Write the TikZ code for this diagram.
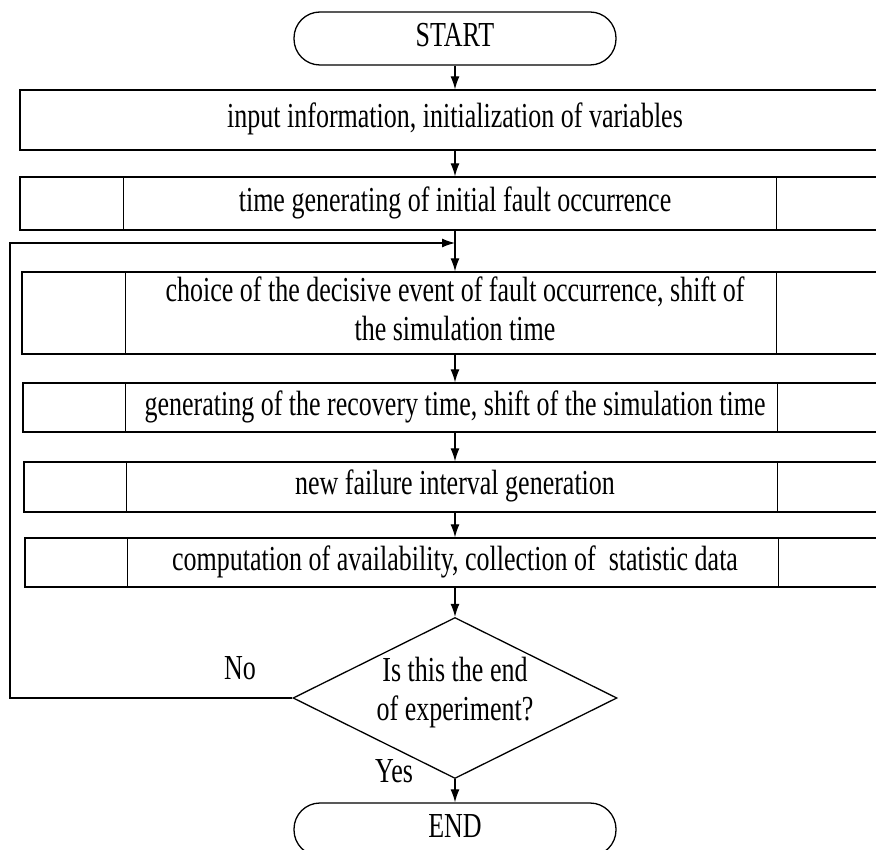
\documentclass[tikz,border=0pt]{standalone}
\usepackage{fontspec}
\usepackage{graphicx}
\setmainfont{Liberation Serif}
\usetikzlibrary{arrows.meta,shapes.geometric}
\newcommand{\vtxt}[1]{\scalebox{1}[1.35]{\begin{tabular}{@{}c@{}}#1\end{tabular}}}
\tikzset{
  every node/.style={font=\fontsize{26}{29}\selectfont, inner sep=0pt},
  ln/.style={line width=1.3pt, draw=black},
  box/.style={ln, rectangle},
  term/.style={ln, rectangle, rounded corners=26pt, minimum width=322pt, minimum height=53pt},
  decision/.style={ln, diamond, minimum width=324pt, minimum height=161pt},
  arr/.style={line width=1.2pt, -{Latex[length=13pt,width=9pt]}},
  lbl/.style={}
}
\begin{document}
\begin{tikzpicture}[x=1pt,y=-1pt]
\useasboundingbox (0,0) rectangle (876,850);
\clip (0,0) rectangle (876,850);

\node[term] (start) at (455,38.5) {\vtxt{START}};
\node[box, minimum width=870pt, minimum height=60pt] (b1) at (455,120) {\vtxt{input information, initialization of variables}};
\node[box, minimum width=870pt, minimum height=53pt] (b2) at (455,203.5) {\vtxt{time generating of initial fault occurrence}};
\node[box, minimum width=866pt, minimum height=82pt] (b3) at (455,313) {\vtxt{choice of the decisive event of fault occurrence, shift of\\ the simulation time}};
\node[box, minimum width=864pt, minimum height=49pt] (b4) at (455,407.5) {\vtxt{generating of the recovery time, shift of the simulation time}};
\node[box, minimum width=862pt, minimum height=50pt] (b5) at (455,487) {\vtxt{new failure interval generation}};
\node[box, minimum width=860pt, minimum height=49pt] (b6) at (455,562.5) {\vtxt{computation of availability, collection of~ statistic data}};
\node[decision] (d) at (455,698) {};
\node (dt) at (455,693) {\vtxt{Is this the end\\ of experiment?}};
\node[term] (end) at (455,829.5) {\vtxt{END}};

\node[lbl] (no) at (240,672) {\vtxt{No}};
\node[lbl] (yes) at (394,775) {\vtxt{Yes}};

% inner vertical lines of predefined-process boxes
\foreach \n/\a/\b in {b2/104/757, b3/104/755, b4/103/755, b5/103/754, b6/103/754}{
  \draw[ln] ([xshift=\a pt]\n.north west) -- ([xshift=\a pt]\n.south west);
  \draw[ln] ([xshift=\b pt]\n.north west) -- ([xshift=\b pt]\n.south west);
}

\coordinate (j) at (455,243);
\coordinate (lb) at (10,698);
\coordinate (lt) at (10,243);

\draw[arr] (start) -- (b1);
\draw[arr] (b1) -- (b2);
\draw[arr] (b2) -- (b3);
\draw[arr] (b3) -- (b4);
\draw[arr] (b4) -- (b5);
\draw[arr] (b5) -- (b6);
\draw[arr] (b6) -- (d);
\draw[arr] (d.south) -- (end);
\draw[arr] (d.west) -- (lb) -- (lt) -- (j);
\end{tikzpicture}
\end{document}
